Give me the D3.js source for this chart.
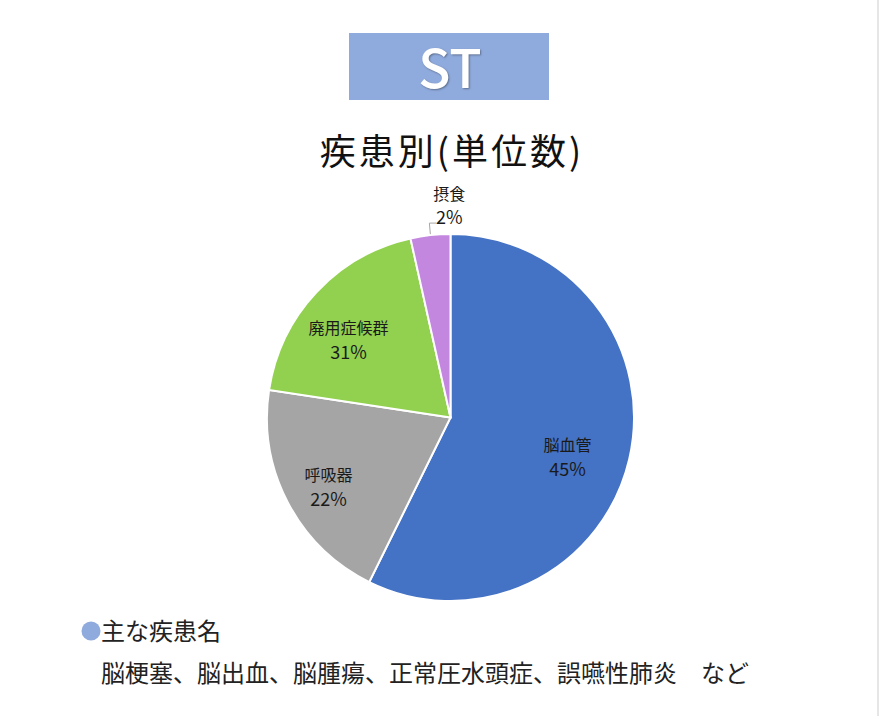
<!DOCTYPE html>
<html>
<head>
<meta charset="utf-8">
<script src="https://cdn.jsdelivr.net/npm/d3@7"></script>
<style>
  html, body { margin: 0; padding: 0; background: #fff; }
  svg { display: block; font-family: "Noto Sans CJK JP", "Noto Sans", sans-serif; }
</style>
</head>
<body>
<svg id="chart" width="880" height="716"></svg>
<script>
// slice sizes as drawn, and the percentage labels printed on them
const categories = ["脳血管", "呼吸器", "廃用症候群", "摂食"];
const values = [57.3, 20.1, 19.1, 3.5];
const pctLabels = ["45%", "22%", "31%", "2%"];
const colors = ["#4472c4", "#a5a5a5", "#92d050", "#c387e0"];

const badge = "ST";
const title = "疾患別(単位数)";
const noteHead = "主な疾患名";
const noteBody = "脳梗塞、脳出血、脳腫瘍、正常圧水頭症、誤嚥性肺炎　など";

const svg = d3.select("#chart");
const cx = 450.5, cy = 417.5, r = 183.5;
const labDx = -8, labDy = 10;   // nudge of inside labels off the centroid

// faint frame line at right edge
svg.append("line")
    .attr("x1", 878).attr("x2", 878).attr("y1", 0).attr("y2", 716)
    .attr("stroke", "#e6e6e6").attr("stroke-width", 2);

// header badge
svg.append("rect")
    .attr("x", 349).attr("y", 33).attr("width", 200).attr("height", 67)
    .attr("fill", "#8faadc");
svg.append("text")
    .attr("x", 450).attr("y", 88)
    .attr("text-anchor", "middle")
    .attr("font-size", 53).attr("font-weight", 500)
    .attr("fill", "#fff")
    .style("text-shadow", "1px 1px 2px rgba(0,0,0,0.35)")
    .text(badge);

svg.append("text")
    .attr("x", 452).attr("y", 165)
    .attr("text-anchor", "middle")
    .attr("font-size", 36)
    .attr("letter-spacing", 3)
    .attr("fill", "#111")
    .text(title);

const pie = d3.pie().sort(null).value(d => d);
const arcs = pie(values);
const arc = d3.arc().innerRadius(0).outerRadius(r);
const labelArc = d3.arc().innerRadius(r * 0.7).outerRadius(r * 0.7);

const g = svg.append("g").attr("transform", `translate(${cx},${cy})`);

g.selectAll("path")
    .data(arcs).enter()
    .append("path")
    .attr("d", arc)
    .attr("fill", (d, i) => colors[i])
    .attr("stroke", "#fff")
    .attr("stroke-width", 2);

// inside labels for the big slices: name and percent as separate lines
const inside = arcs.filter(d => d.endAngle - d.startAngle > 0.5);
const lab = g.selectAll(".lab")
    .data(inside).enter()
    .append("g")
    .attr("class", "lab")
    .attr("transform", d => {
        const [x, y] = labelArc.centroid(d);
        return `translate(${x + labDx},${y + labDy})`;
    });
lab.append("text")
    .attr("text-anchor", "middle")
    .attr("y", -6)
    .attr("font-size", 16)
    .attr("fill", "#1a1a1a")
    .text(d => categories[d.index]);
lab.append("text")
    .attr("text-anchor", "middle")
    .attr("y", 19)
    .attr("font-size", 18)
    .attr("fill", "#1a1a1a")
    .text(d => pctLabels[d.index]);

// outside label with a leader line for the small slice
const small = arcs.filter(d => d.endAngle - d.startAngle <= 0.5);
small.forEach(d => {
    const mid = (d.startAngle + d.endAngle) / 2;
    const ex = Math.sin(mid) * r, ey = -Math.cos(mid) * r;
    g.append("polyline")
        .attr("points", [[ex, ey - 1], [ex - 1, ey - 12], [ex + 6, ey - 12]].map(p => p.join(",")).join(" "))
        .attr("fill", "none").attr("stroke", "#a6a6a6").attr("stroke-width", 1);
    g.append("text")
        .attr("text-anchor", "middle")
        .attr("x", ex + 19).attr("y", ey - 35)
        .attr("font-size", 16)
        .attr("fill", "#1a1a1a")
        .text(categories[d.index]);
    g.append("text")
        .attr("text-anchor", "middle")
        .attr("x", ex + 19).attr("y", ey - 11)
        .attr("font-size", 18)
        .attr("fill", "#1a1a1a")
        .text(pctLabels[d.index]);
});

// notes below the chart
svg.append("circle")
    .attr("cx", 91).attr("cy", 631).attr("r", 9.5)
    .attr("fill", "#8faadc");
svg.append("text")
    .attr("x", 101).attr("y", 640)
    .attr("font-size", 24).attr("fill", "#222")
    .text(noteHead);
svg.append("text")
    .attr("x", 101).attr("y", 682)
    .attr("font-size", 24).attr("fill", "#222")
    .text(noteBody);
</script>
</body>
</html>
